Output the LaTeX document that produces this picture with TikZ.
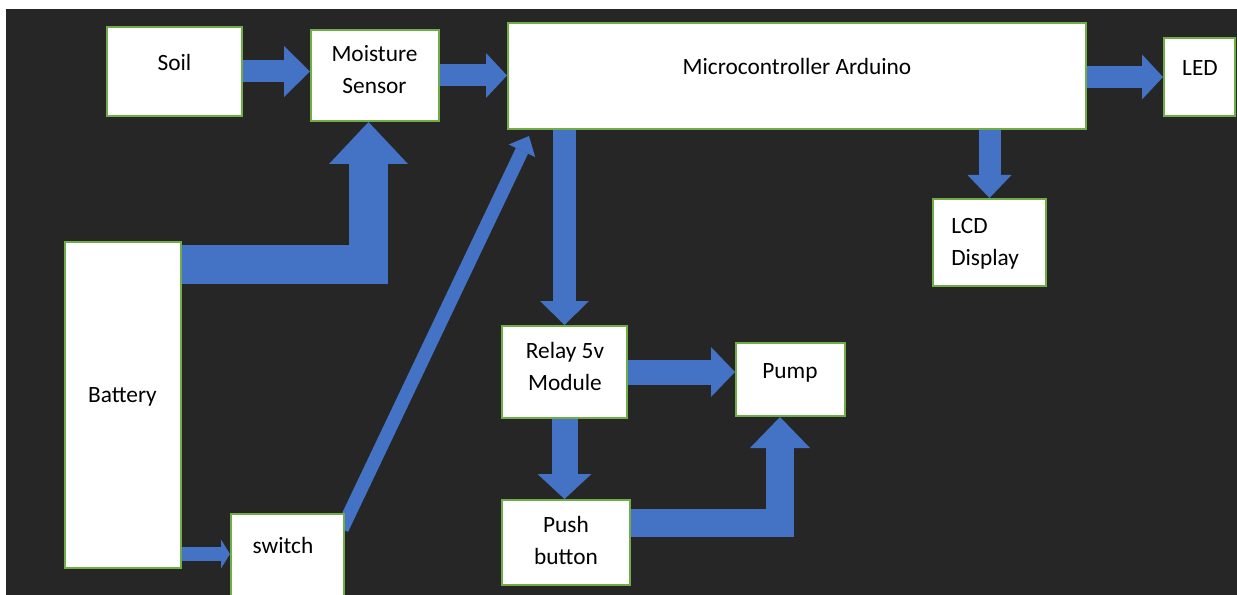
\documentclass[tikz,border=0pt]{standalone}
\usepackage{fontspec}
\setmainfont{Carlito}
\usetikzlibrary{%
		arrows.meta%
		,calc%
	}
\definecolor{bgdark}{HTML}{262626}
\definecolor{flowblue}{HTML}{4472C4}
\definecolor{boxgreen}{HTML}{70AD47}
\pgfdeclarelayer{back}
\pgfsetlayers{back,main}
\tikzset{
	blk/.style 2 args={draw=boxgreen, line width=1.5pt, fill=white, minimum width=#1*0.75pt, minimum height=#2*0.75pt, inner sep=0pt},
	txt/.style={font=\fontsize{17.5}{24}\selectfont, align=center, inner sep=0pt},
	flow/.style n args={3}{draw=flowblue, line width=#1, -{Triangle[width=#2, length=#3, line width=0pt]}},
}
\begin{document}
\begin{tikzpicture}[x=0.75pt, y=-0.75pt]
			\useasboundingbox (0,0) rectangle (1237,595);
			\begin{pgfonlayer}{back}
				\fill[bgdark] (6,9) rectangle (1237,595);
			\end{pgfonlayer}

			\node[blk={135}{89}] (soil) at (174.5,71.5) {};
			\node[blk={128}{91}] (moist) at (375,75.5) {};
			\node[blk={578}{106}] (micro) at (797,76) {};
			\node[blk={71}{78}] (led) at (1199.5,77) {};
			\node[blk={113}{87}] (lcd) at (989.5,242.5) {};
			\node[blk={116}{326}] (battery) at (123,405) {};
			\node[blk={113}{90}] (switch) at (287.5,559) {};
			\node[blk={125}{92}] (relay) at (564.5,372) {};
			\node[blk={109}{73}] (pump) at (790.5,379.5) {};
			\node[blk={128}{85}] (push) at (566,542.5) {};

			\node[txt] (soil-t) at (174.5,62) {Soil};
			\node[txt] (moist-t) at (374.5,70) {Moisture\\Sensor};
			\node[txt] (micro-t) at (797,66) {Microcontroller Arduino};
			\node[txt] (led-t) at (1200,68.5) {LED};
			\node[txt, align=left, anchor=west] (lcd-t) at (951,244) {LCD\\Display};
			\node[txt] (battery-t) at (122.5,397) {Battery};
			\node[txt] (switch-t) at (283,545) {switch};
			\node[txt] (relay-t) at (565,366) {Relay 5v\\Module};
			\node[txt] (pump-t) at (790,372.5) {Pump};
			\node[txt] (push-t) at (566,540) {Push\\button};

			\begin{pgfonlayer}{back}
				\draw[flow={16.5pt}{38.25pt}{19.5pt}] (soil.east) -- (soil.east -| moist.west);
				\draw[flow={16.5pt}{33.75pt}{15.75pt}] (moist.east) -- (moist.east -| micro.west);
				\draw[flow={16.5pt}{33.75pt}{15.75pt}] (micro.east |- led.west) -- (led.west);
				\draw[flow={16.5pt}{33pt}{17.25pt}] (lcd.north |- micro.south) -- (lcd.north);
				\draw[flow={29.25pt}{59.25pt}{31.5pt}] ($(battery.north east)+(0,23)$) -| ($(moist.south)+(-6.5,0)$);
				\draw[flow={10.5pt}{21.75pt}{6.75pt}] ($(battery.south east)+(0,-15)$) -- ($(switch.west)+(0,-5)$);
				\draw[flow={10.1pt}{22pt}{12.3pt}] ($(switch.north east)+(-3,16)$) -- ($(micro.south west)+(22,6)$);
				\draw[flow={17.25pt}{36.75pt}{18pt}] (relay.north |- micro.south) -- (relay.north);
				\draw[flow={18.75pt}{37.5pt}{18pt}] (relay.east) -- (relay.east -| pump.west);
				\draw[flow={19.5pt}{40.5pt}{18.75pt}] (relay.south) -- (relay.south |- push.north);
				\draw[flow={21pt}{45pt}{23.25pt}] ($(push.north east)+(0,23.5)$) -| ($(pump.south)+(-10.5,0)$);
			\end{pgfonlayer}
		\end{tikzpicture}
\end{document}
